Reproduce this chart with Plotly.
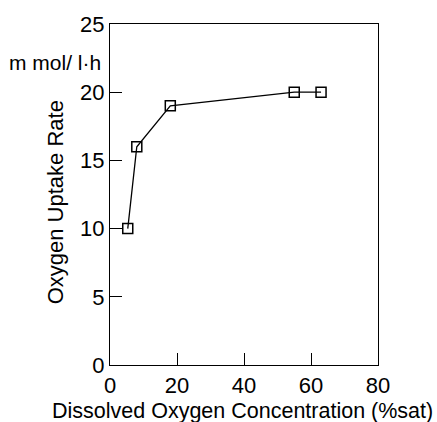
import plotly.graph_objects as go

do_conc = [5.3, 8, 18, 55, 63]
our_rate = [10, 16, 19, 20, 20]
x_ticks = [0, 20, 40, 60, 80]
y_ticks = [0, 5, 10, 15, 20, 25]

FONT = "Liberation Sans, Arial, sans-serif"

fig = go.Figure()
fig.add_trace(go.Scatter(
    x=do_conc, y=our_rate, mode="lines+markers",
    line=dict(color="black", width=1.3),
    marker=dict(symbol="square-open", size=10, color="black", line=dict(width=1.5)),
    showlegend=False,
))

fig.update_layout(
    width=437, height=422,
    margin=dict(l=110, r=59, t=15, b=57),
    paper_bgcolor="white", plot_bgcolor="white",
    font=dict(family=FONT, color="black", size=22),
    xaxis=dict(range=[0, 80], tickvals=x_ticks, ticks="inside", ticklen=12,
               tickwidth=1.2, tickcolor="black", showline=True, linecolor="black",
               linewidth=1.3, mirror=True, showgrid=False, zeroline=False,
               tickfont=dict(size=22)),
    yaxis=dict(range=[0, 25], tickvals=y_ticks, ticks="inside", ticklen=12,
               tickwidth=1.2, tickcolor="black", showline=True, linecolor="black",
               linewidth=1.3, mirror=True, showgrid=False, zeroline=False,
               tickfont=dict(size=22)),
    annotations=[
        dict(text="Dissolved Oxygen Concentration (%sat)", xref="paper", yref="paper",
             x=0.5, xshift=-2, y=0, yshift=-46, xanchor="center", yanchor="middle",
             showarrow=False, font=dict(size=21.5)),
        dict(text="Oxygen Uptake Rate", xref="paper", yref="paper",
             x=0, xshift=-55, y=0.477, xanchor="center", yanchor="middle",
             textangle=-90, showarrow=False, font=dict(size=22)),
        dict(text="m mol/ l·h", xref="paper", yref="paper",
             x=0, xshift=-7, y=0.886, xanchor="right", yanchor="middle",
             showarrow=False, font=dict(size=21)),
    ],
)

fig.write_html("out.html")
